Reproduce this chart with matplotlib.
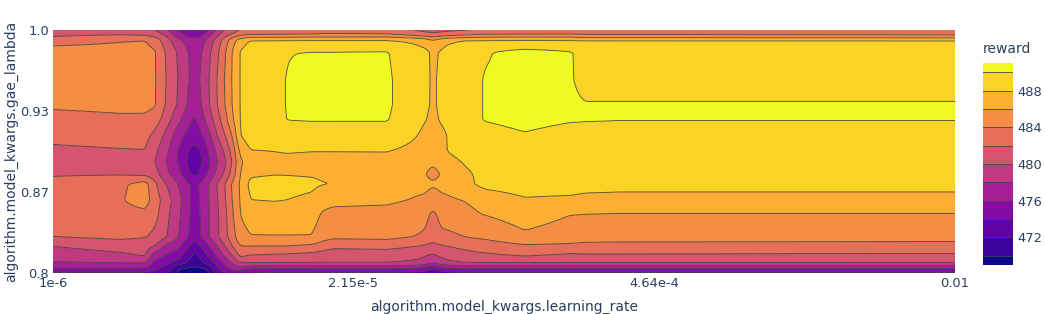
import numpy as np
import matplotlib
matplotlib.use("Agg")
import matplotlib.pyplot as plt
from matplotlib.colors import LinearSegmentedColormap

# log10 of learning rate for each column of the grid
lr_exp = [-6.0, -5.703, -5.592, -5.548, -5.499, -5.446, -5.397, -5.37, -5.348, -5.308, -5.273, -5.237,
          -5.206, -5.171, -5.126, -5.016, -4.962, -4.851, -4.807, -4.758, -4.519, -4.381, -4.35, -4.315,
          -4.279, -4.253, -4.173, -4.106, -4.084, -3.907, -3.707, -3.641, -3.486, -2.0]
gae_lambda = [1.0, 0.9967, 0.9942, 0.9918, 0.9819, 0.9588, 0.9383, 0.9259, 0.9136, 0.9012, 0.8914,
              0.8815, 0.8733, 0.8601, 0.8477, 0.8296, 0.8222, 0.8148, 0.8082, 0.8041, 0.8]

# reward, one list per learning rate, same order as gae_lambda
r00 = [481.0, 481.6, 482.0, 483.2, 484.8, 485.2, 484.3, 483.3, 482.5, 481.7, 481.4, 481.8, 482.6, 483.0, 483.0, 482.0, 480.0, 479.0, 477.8, 476.2, 473.5]
r01 = [481.0, 481.8, 482.6, 483.8, 484.8, 485.2, 484.5, 483.6, 482.8, 481.9, 481.5, 481.8, 483.6, 483.8, 483.3, 482.4, 480.9, 479.6, 478.0, 476.2, 473.5]
r02 = [480.6, 481.6, 482.5, 484.0, 484.7, 485.0, 484.5, 483.6, 482.6, 482.0, 481.0, 481.5, 484.8, 484.9, 483.4, 482.1, 480.8, 480.3, 478.0, 476.0, 473.5]
r03 = [480.0, 481.0, 482.0, 483.0, 484.2, 484.2, 484.2, 483.0, 481.5, 480.5, 480.0, 480.8, 482.4, 483.0, 482.6, 481.5, 480.0, 477.0, 475.5, 474.5, 473.0]
r04 = [478.5, 479.5, 480.3, 481.0, 481.8, 482.0, 481.8, 481.0, 479.5, 478.5, 478.0, 478.5, 480.0, 481.0, 480.6, 480.2, 477.5, 476.0, 474.5, 473.5, 472.5]
r05 = [476.0, 476.8, 477.5, 478.5, 479.8, 480.0, 479.8, 478.5, 477.0, 476.0, 476.0, 476.8, 478.0, 478.8, 478.5, 478.1, 476.5, 475.0, 473.0, 470.2, 469.7]
r06 = [474.3, 475.0, 476.0, 477.0, 477.9, 478.0, 477.6, 476.6, 475.3, 473.9, 473.5, 474.2, 476.0, 476.3, 476.2, 475.9, 474.2, 472.6, 471.5, 469.8, 468.8]
r07 = [473.6, 474.7, 475.8, 476.5, 477.2, 477.4, 476.6, 475.6, 474.8, 473.5, 472.6, 473.4, 476.0, 475.0, 475.0, 474.5, 472.8, 471.5, 470.6, 469.7, 468.6]
r08 = [474.0, 475.1, 476.0, 476.8, 477.6, 478.0, 477.7, 476.8, 475.5, 473.9, 473.5, 474.2, 476.1, 476.1, 476.0, 475.8, 473.8, 472.3, 471.3, 469.8, 468.8]
r09 = [476.0, 477.0, 478.0, 478.9, 479.6, 480.0, 479.9, 479.0, 477.5, 476.3, 475.7, 476.5, 478.0, 478.0, 478.0, 478.0, 476.0, 474.5, 472.8, 470.4, 469.9]
r10 = [478.5, 479.3, 480.0, 480.8, 481.5, 482.0, 481.9, 481.0, 480.0, 478.5, 477.8, 478.5, 480.0, 479.8, 479.6, 479.6, 478.0, 476.5, 474.7, 473.8, 472.5]
r11 = [480.0, 481.0, 482.0, 483.0, 483.8, 484.2, 484.0, 483.3, 482.0, 480.5, 479.6, 480.4, 482.0, 481.8, 481.5, 481.4, 480.0, 478.5, 476.5, 475.5, 474.0]
r12 = [481.0, 482.0, 483.5, 485.0, 486.0, 486.1, 486.0, 485.5, 484.0, 482.7, 482.0, 482.7, 484.2, 484.0, 483.6, 483.0, 482.0, 480.0, 478.0, 476.8, 475.0]
r13 = [482.0, 483.0, 485.0, 487.0, 488.1, 488.1, 488.1, 488.1, 488.0, 486.5, 485.7, 486.0, 486.2, 486.1, 486.0, 485.2, 484.0, 482.6, 480.0, 477.5, 474.5]
r14 = [482.5, 483.5, 485.8, 488.0, 489.0, 489.0, 489.0, 489.0, 489.0, 488.0, 486.7, 487.7, 488.5, 488.0, 486.8, 485.9, 484.0, 482.0, 480.0, 476.5, 473.8]
r15 = [482.7, 483.6, 485.8, 488.0, 489.6, 489.7, 489.7, 489.6, 489.0, 488.1, 487.4, 487.9, 488.8, 488.1, 487.0, 485.9, 484.0, 481.8, 480.0, 476.2, 473.5]
r16 = [482.8, 483.7, 485.8, 488.0, 489.95, 490.05, 490.05, 490.03, 489.0, 488.2, 487.5, 487.9, 488.6, 488.0, 487.0, 485.9, 484.0, 481.7, 480.0, 476.2, 473.5]
r17 = [483.0, 483.8, 486.0, 488.0, 490.05, 490.4, 490.4, 490.1, 489.0, 488.1, 487.4, 487.8, 488.4, 487.6, 486.8, 485.9, 483.6, 481.4, 480.0, 476.2, 473.5]
r18 = [483.0, 484.0, 486.0, 488.0, 490.05, 490.4, 490.4, 490.1, 489.0, 488.1, 487.4, 487.7, 488.1, 486.6, 485.8, 484.9, 483.0, 481.2, 480.0, 476.2, 473.5]
r19 = [483.0, 484.0, 486.0, 488.0, 490.05, 490.4, 490.4, 490.1, 489.0, 488.1, 487.4, 487.6, 488.0, 486.5, 485.4, 484.4, 482.4, 481.0, 480.0, 476.2, 473.5]
r20 = [482.5, 484.0, 486.0, 488.0, 490.1, 490.3, 490.3, 490.1, 489.0, 488.1, 487.5, 487.2, 487.0, 486.4, 485.2, 484.5, 482.6, 481.0, 480.0, 476.2, 473.5]
r21 = [481.8, 482.8, 485.0, 487.5, 488.6, 488.6, 488.6, 488.5, 488.0, 487.6, 487.1, 486.6, 486.5, 485.8, 484.6, 483.9, 482.0, 480.6, 479.5, 476.0, 473.3]
r22 = [481.5, 482.5, 484.5, 487.0, 488.5, 488.5, 488.4, 488.1, 487.5, 487.2, 486.8, 486.1, 486.5, 485.7, 484.6, 483.7, 481.7, 480.2, 479.0, 475.5, 473.0]
r23 = [481.3, 482.3, 484.0, 486.0, 487.6, 487.7, 487.7, 487.5, 487.0, 486.6, 486.3, 485.3, 486.3, 484.8, 483.5, 482.5, 481.5, 479.8, 478.0, 474.2, 472.5]
r24 = [481.5, 482.5, 484.5, 487.0, 488.2, 488.4, 488.4, 488.2, 487.5, 487.3, 487.0, 486.1, 486.5, 485.6, 484.6, 483.6, 481.8, 480.5, 479.0, 475.5, 473.0]
r25 = [481.6, 482.8, 485.0, 487.5, 488.7, 488.7, 488.7, 488.5, 488.05, 488.05, 487.6, 487.2, 486.6, 485.7, 484.8, 483.6, 482.0, 480.7, 479.5, 476.0, 473.3]
r26 = [481.8, 483.2, 485.5, 488.0, 489.3, 489.3, 489.3, 489.3, 488.8, 488.5, 488.1, 487.8, 487.5, 486.1, 485.2, 484.0, 482.6, 481.2, 480.0, 476.2, 473.5]
r27 = [482.0, 483.6, 485.8, 488.0, 489.8, 489.9, 489.9, 489.95, 489.2, 488.8, 488.4, 488.2, 488.3, 486.8, 485.9, 484.3, 482.8, 481.7, 480.0, 476.2, 473.5]
r28 = [482.0, 483.7, 485.9, 488.0, 489.85, 490.1, 490.1, 490.05, 489.5, 489.0, 488.7, 488.4, 488.3, 487.4, 486.0, 484.4, 482.9, 481.7, 480.0, 476.2, 473.5]
r29 = [482.3, 483.8, 486.0, 488.0, 490.6, 490.5, 490.5, 490.4, 489.9, 489.3, 489.0, 488.9, 488.5, 487.9, 486.9, 485.6, 483.7, 482.3, 480.0, 476.2, 473.5]
r30 = [482.6, 483.8, 486.0, 488.0, 490.1, 490.1, 490.2, 490.1, 489.5, 489.2, 489.0, 488.8, 488.5, 487.8, 486.0, 485.0, 483.6, 481.7, 480.0, 476.2, 473.5]
r31 = [482.7, 483.7, 485.4, 488.0, 489.6, 489.7, 490.05, 490.05, 489.6, 489.3, 489.0, 488.8, 488.4, 487.7, 485.9, 484.7, 483.5, 481.8, 480.0, 476.2, 473.5]
r32 = [482.7, 483.6, 485.4, 488.0, 489.3, 489.7, 490.05, 490.02, 489.6, 489.3, 489.0, 488.7, 488.4, 487.6, 485.8, 484.6, 483.5, 481.8, 480.0, 476.2, 473.5]
r33 = [482.8, 483.4, 485.2, 488.0, 489.3, 489.7, 490.05, 490.02, 489.6, 489.3, 489.0, 488.8, 488.4, 487.6, 485.8, 484.6, 483.4, 481.7, 480.0, 476.2, 473.5]

x_ticks = [1e-6, 2.15e-5, 4.64e-4, 0.01]
x_labels = ["1e-6", "2.15e-5", "4.64e-4", "0.01"]
y_ticks = [0.8, 0.8667, 0.9333, 1.0]
y_labels = ["0.8", "0.87", "0.93", "1.0"]
levels = [469, 470, 472, 474, 476, 478, 480, 482, 484, 486, 488, 490, 491]
cbar_ticks = [472, 476, 480, 484, 488]

plasma = ["#0d0887", "#46039f", "#7201a8", "#9c179e", "#bd3786", "#d8576b", "#ed7953", "#fb9f3a", "#fdca26", "#f0f921"]
text_color = "#2a3f5f"


def blur(a, sigma, axis):
    # small gaussian, the reference contours are smoothed too
    half = int(sigma * 3)
    k = np.exp(-0.5 * (np.arange(-half, half + 1) / sigma) ** 2)
    k = k / k.sum()
    pad = [(0, 0), (0, 0)]
    pad[axis] = (half, half)
    a = np.pad(a, pad, mode="edge")
    return np.apply_along_axis(lambda m: np.convolve(m, k, mode="valid"), axis, a)


columns = [r00, r01, r02, r03, r04, r05, r06, r07, r08, r09, r10, r11, r12, r13, r14, r15, r16, r17,
           r18, r19, r20, r21, r22, r23, r24, r25, r26, r27, r28, r29, r30, r31, r32, r33]
z = np.array(columns).T

# fine grid for the filled contours
fx = np.linspace(-6, -2, 903)
fy = np.linspace(0.8, 1.0, 244)
rows_up = np.array([np.interp(fx, lr_exp, row) for row in z])
zf = np.array([np.interp(fy, gae_lambda[::-1], col[::-1]) for col in rows_up.T]).T
zf = blur(blur(zf, 1.8, 1), 1.2, 0)

cmap = LinearSegmentedColormap.from_list("plasma_px", plasma)
band_colors = [cmap(i / 11) for i in range(12)]

fig = plt.figure(figsize=(10.45, 3.14), dpi=100)
ax = fig.add_axes([53 / 1045, 1 - 273 / 314, 902 / 1045, 243 / 314])
cax = fig.add_axes([983 / 1045, 1 - 265 / 314, 30 / 1045, 202 / 314])

lr_grid = 10.0 ** fx
cf = ax.contourf(lr_grid, fy, zf, levels=levels, colors=band_colors, extend="both")
cl = ax.contour(lr_grid, fy, zf, levels=levels[1:-1], colors="#444444", linewidths=0.65, alpha=0.9)
ax.set_xscale("log")
ax.set_xlim(1e-6, 0.01)
ax.set_ylim(0.8, 1.0)
ax.minorticks_off()
ax.set_xticks(x_ticks, x_labels)
ax.set_yticks(y_ticks, y_labels)
ax.tick_params(length=0, labelsize=9.4, labelcolor=text_color, pad=3)
for s in ax.spines.values():
    s.set_visible(False)
fig.text(504 / 1045, 1 - 307 / 314, "algorithm.model_kwargs.learning_rate", color=text_color,
         fontsize=10, ha="center", va="center")
fig.text(11 / 1045, 1 - 151 / 314, "algorithm.model_kwargs.gae_lambda", color=text_color,
         fontsize=10, ha="center", va="center", rotation=90)

# colorbar bands
for i in range(12):
    cax.axhspan(levels[i], levels[i + 1], color=band_colors[i], lw=0)
for v in levels[1:-1]:
    cax.axhline(v, color="#444444", lw=0.65, alpha=0.9)
cax.set_ylim(469, 491)
cax.set_xticks([])
cax.yaxis.tick_right()
cax.set_yticks(cbar_ticks, [str(v) for v in cbar_ticks])
cax.tick_params(length=0, labelsize=9.4, labelcolor=text_color, pad=3)
for s in cax.spines.values():
    s.set_visible(False)
fig.text(983 / 1045, 1 - 49 / 314, "reward", color=text_color, fontsize=10, ha="left", va="center")

fig.savefig("out.png", dpi=100)
